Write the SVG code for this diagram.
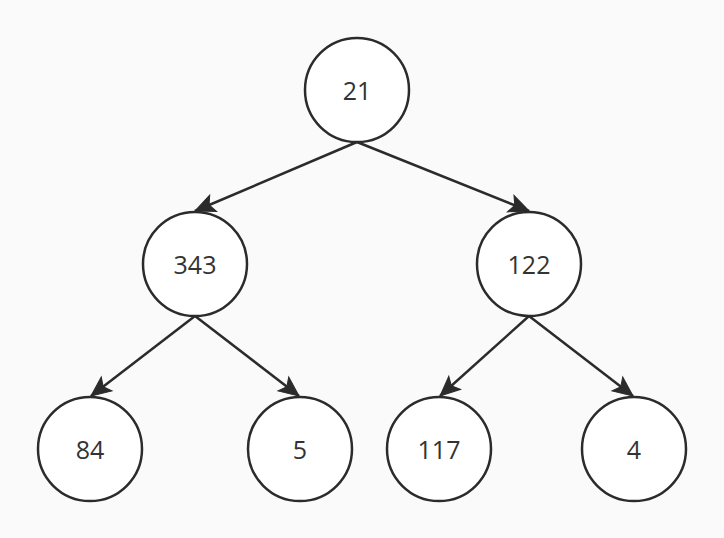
<svg xmlns="http://www.w3.org/2000/svg" width="724" height="538" viewBox="0 0 724 538">
<style>
.n circle{fill:#ffffff;stroke:#2b2b2b;stroke-width:2.5}
.n text{font-family:"Open Sans","Noto Sans","Liberation Sans",sans-serif;font-size:25px;fill:#333333;text-anchor:middle;dominant-baseline:central}
.e line{stroke:#2b2b2b;stroke-width:2.5}
</style>
<defs>
<marker id="arr" markerUnits="userSpaceOnUse" markerWidth="24" markerHeight="22" viewBox="-20 -9 22 18" refX="0" refY="0" orient="auto">
<path d="M0,0 L-18,-8 L-14,0 L-18,8 Z" fill="#2b2b2b" stroke="#2b2b2b" stroke-width="1"/>
</marker>
</defs>
<rect width="724" height="538" fill="#fafafa"/>
<g id="edges" class="e">
<line x1="357" y1="142" x2="195" y2="211" marker-end="url(#arr)"/>
<line x1="357" y1="142" x2="529" y2="211" marker-end="url(#arr)"/>
<line x1="195" y1="316" x2="91" y2="396" marker-end="url(#arr)"/>
<line x1="195" y1="316" x2="299" y2="396" marker-end="url(#arr)"/>
<line x1="529" y1="316" x2="440" y2="396" marker-end="url(#arr)"/>
<line x1="529" y1="316" x2="633" y2="396" marker-end="url(#arr)"/>
</g>
<g id="n21" class="n"><circle cx="357" cy="90" r="52"/><text x="357" y="90">21</text></g>
<g id="n343" class="n"><circle cx="195" cy="264" r="52"/><text x="195" y="264">343</text></g>
<g id="n122" class="n"><circle cx="529" cy="264" r="52"/><text x="529" y="264">122</text></g>
<g id="n84" class="n"><circle cx="90" cy="449" r="52"/><text x="90" y="449">84</text></g>
<g id="n5" class="n"><circle cx="300" cy="449" r="52"/><text x="300" y="449">5</text></g>
<g id="n117" class="n"><circle cx="439" cy="449" r="52"/><text x="439" y="449">117</text></g>
<g id="n4" class="n"><circle cx="634" cy="449" r="52"/><text x="634" y="449">4</text></g>
</svg>
